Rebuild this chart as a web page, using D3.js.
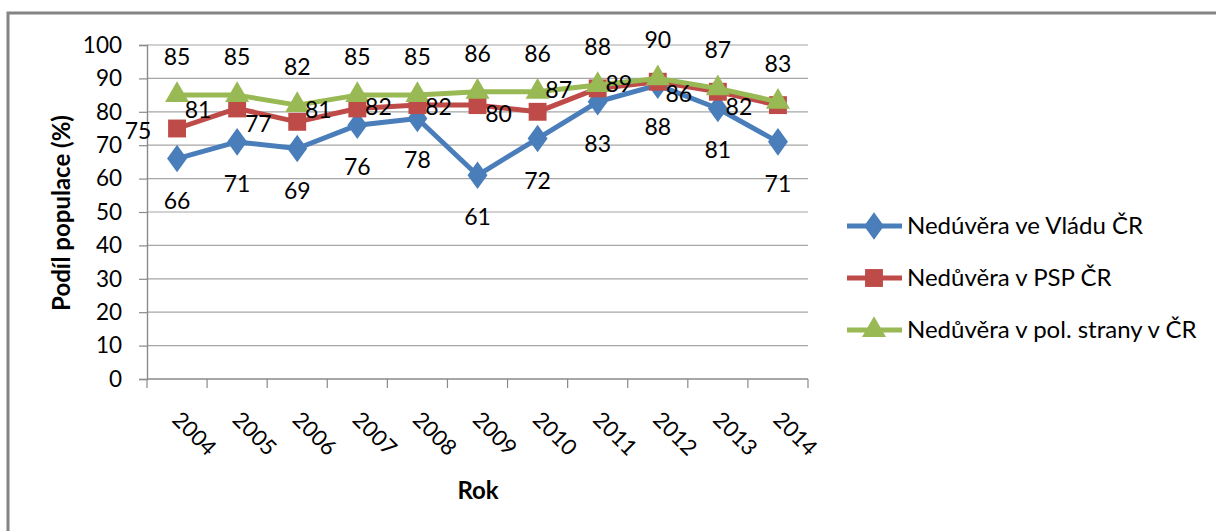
<!DOCTYPE html>
<html>
<head>
<meta charset="utf-8">
<script src="https://cdn.jsdelivr.net/npm/d3@7"></script>
<style>
  body { margin: 0; background: #fff; }
  text { font-family: Lato, "Open Sans", sans-serif; fill: #000; }
</style>
</head>
<body>
<svg id="chart" width="1216" height="531"></svg>
<script>
var years = ['2004', '2005', '2006', '2007', '2008', '2009', '2010', '2011', '2012', '2013', '2014'];
var vlada = [66, 71, 69, 76, 78, 61, 72, 83, 88, 81, 71];
var psp = [75, 81, 77, 81, 82, 82, 80, 87, 89, 86, 82];
var strany = [85, 85, 82, 85, 85, 86, 86, 88, 90, 87, 83];
var yTicks = [0, 10, 20, 30, 40, 50, 60, 70, 80, 90, 100];
var seriesNames = ['Nedúvěra ve Vládu ČR', 'Nedůvěra v PSP ČR', 'Nedůvěra v pol. strany v ČR'];

(function() {
  var svg = d3.select('#chart');

  // outer chart frame, cut off on the right and bottom like the screenshot
  svg.append('rect')
    .attr('x', 8).attr('y', 13)
    .attr('width', 1300).attr('height', 600)
    .attr('fill', 'none')
    .attr('stroke', '#848484')
    .attr('stroke-width', 3);

  var x = d3.scaleBand().domain(years).range([147, 808]);
  var y = d3.scaleLinear().domain([0, 100]).range([379, 45]);
  var cx = function(d, i) { return x(years[i]) + x.bandwidth() / 2; };

  // gridlines
  svg.append('g').selectAll('line')
    .data(yTicks.slice(1))
    .enter().append('line')
    .attr('x1', 147).attr('x2', 808)
    .attr('y1', function(d) { return y(d); })
    .attr('y2', function(d) { return y(d); })
    .attr('stroke', '#a6a6a6')
    .attr('stroke-width', 1.2);

  // y axis
  var yAxis = svg.append('g')
    .attr('transform', 'translate(147,0)')
    .call(d3.axisLeft(y).tickValues(yTicks).tickSize(8).tickPadding(17));
  yAxis.select('.domain').attr('stroke', '#8a8a8a').attr('stroke-width', 1.4);
  yAxis.selectAll('.tick line').attr('stroke', '#8a8a8a').attr('stroke-width', 1.2);
  yAxis.selectAll('.tick text').style('font-size', '22.5px').attr('font-family', null);

  // x axis, ticks on the band boundaries
  var xAxis = svg.append('g').attr('transform', 'translate(0,379)');
  xAxis.append('line')
    .attr('x1', 147).attr('x2', 808)
    .attr('stroke', '#8a8a8a').attr('stroke-width', 1.4);
  xAxis.selectAll('line.tk')
    .data(years.concat(['end']))
    .enter().append('line')
    .attr('class', 'tk')
    .attr('x1', function(d, i) { return i < years.length ? x(d) : x.range()[1]; })
    .attr('x2', function(d, i) { return i < years.length ? x(d) : x.range()[1]; })
    .attr('y1', 0).attr('y2', 9)
    .attr('stroke', '#8a8a8a').attr('stroke-width', 1.2);
  xAxis.selectAll('text')
    .data(years)
    .enter().append('text')
    .attr('transform', function(d) {
      return 'translate(' + (x(d) + x.bandwidth() / 2 - 6) + ',42) rotate(45)';
    })
    .style('font-size', '22px')
    .text(function(d) { return d; });

  // axis titles
  svg.append('text')
    .attr('transform', 'translate(70,213) rotate(-90)')
    .attr('text-anchor', 'middle')
    .style('font-size', '24px')
    .style('font-weight', 'bold')
    .text('Podíl populace (%)');
  svg.append('text')
    .attr('x', 478).attr('y', 499)
    .attr('text-anchor', 'middle')
    .style('font-size', '24px')
    .style('font-weight', 'bold')
    .text('Rok');

  var line = d3.line()
    .x(cx)
    .y(function(d) { return y(d); });

  var series = [
    {values: vlada, color: '#4a7ebb', marker: d3.symbolDiamond, size: 220, label: 'below'},
    {values: psp, color: '#be4b48', marker: d3.symbolSquare, size: 320, label: 'left'},
    {values: strany, color: '#98b954', marker: d3.symbolTriangle, size: 250, label: 'above'}
  ];

  var drawSeries = function(s) {
    var g = svg.append('g');
    g.append('path')
      .attr('d', line(s.values))
      .attr('fill', 'none')
      .attr('stroke', s.color)
      .attr('stroke-width', 5)
      .attr('stroke-linejoin', 'round');
    var sym = d3.symbol().type(s.marker).size(s.size);
    g.selectAll('path.m')
      .data(s.values)
      .enter().append('path')
      .attr('class', 'm')
      .attr('d', sym)
      .attr('transform', function(d, i) {
        var sy = s.marker === d3.symbolDiamond ? ' scale(1.25,1)' : '';
        return 'translate(' + cx(d, i) + ',' + y(d) + ')' + sy;
      })
      .attr('fill', s.color);
  };
  series.forEach(drawSeries);

  // data labels on top of everything
  series.forEach(function(s) {
    svg.append('g').selectAll('text')
      .data(s.values)
      .enter().append('text')
      .attr('x', function(d, i) { return s.label === 'left' ? cx(d, i) - 39 : cx(d, i); })
      .attr('y', function(d) {
        if(s.label === 'below') return y(d) + 50;
        if(s.label === 'above') return y(d) - 30;
        return y(d) + 10;
      })
      .attr('text-anchor', 'middle')
      .style('font-size', '23px')
      .text(function(d) { return d; });
  });

  // legend
  var legend = svg.append('g').selectAll('g')
    .data(series)
    .enter().append('g')
    .attr('transform', function(d, i) { return 'translate(847,' + (226 + i * 52) + ')'; });
  legend.append('line')
    .attr('x1', 0).attr('x2', 55)
    .attr('stroke', function(d) { return d.color; })
    .attr('stroke-width', 5);
  legend.append('path')
    .attr('d', function(d) { return d3.symbol().type(d.marker).size(d.size)(); })
    .attr('transform', function(d) {
      return 'translate(27,0)' + (d.marker === d3.symbolDiamond ? ' scale(1.25,1)' : '');
    })
    .attr('fill', function(d) { return d.color; });
  legend.append('text')
    .attr('x', 60).attr('y', 8)
    .style('font-size', '24px')
    .text(function(d, i) { return seriesNames[i]; });
})();
</script>
</body>
</html>
